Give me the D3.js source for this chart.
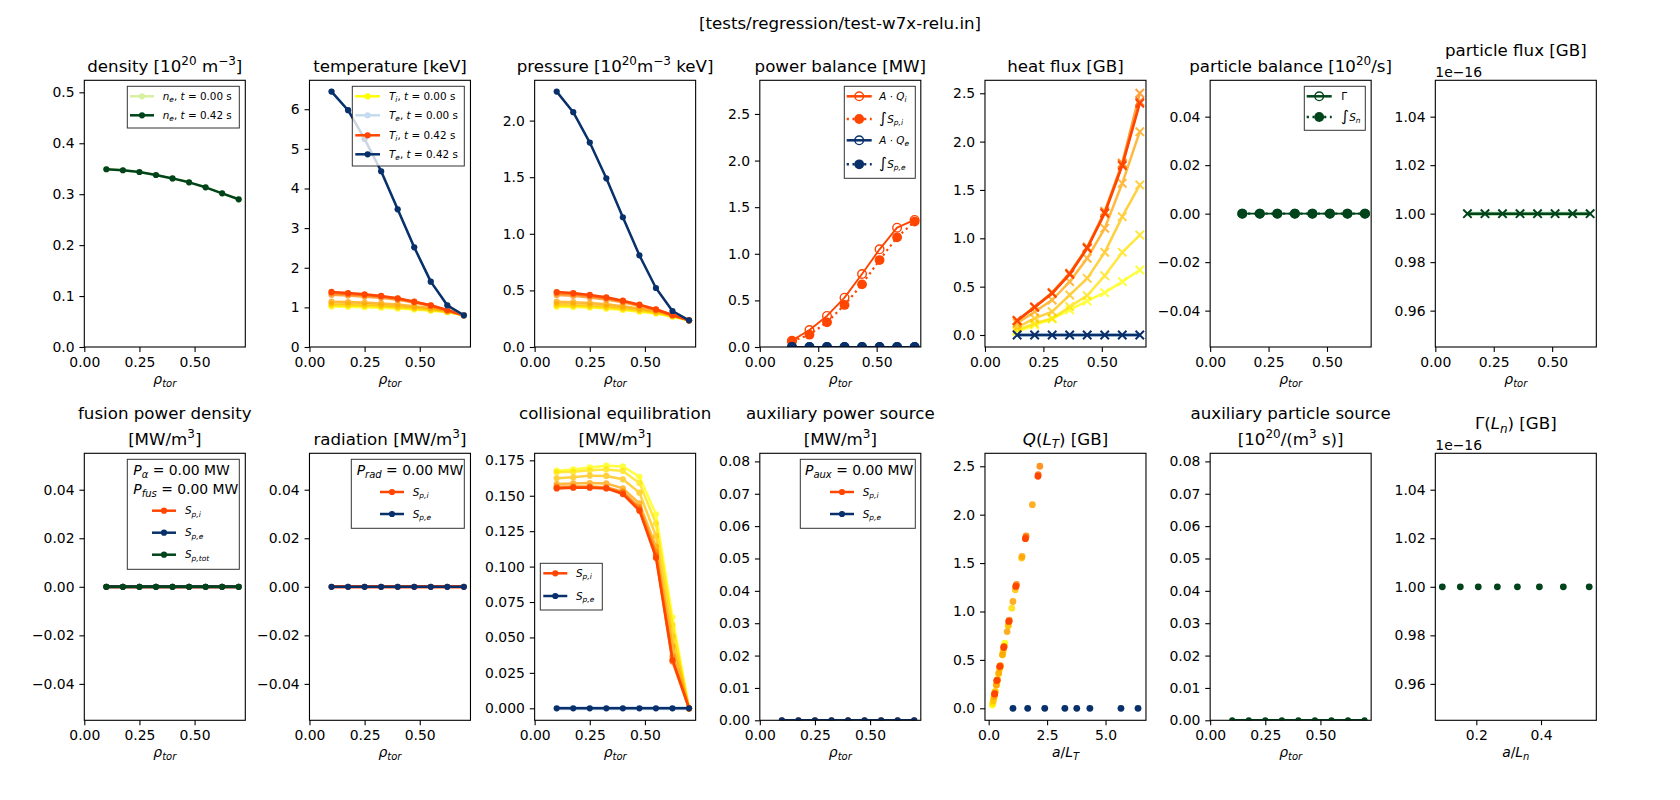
<!DOCTYPE html>
<html><head><meta charset="utf-8">
<script src="https://cdn.jsdelivr.net/npm/d3@7"></script>
<style>body{margin:0;background:#fff} text{font-family:"DejaVu Sans",sans-serif;white-space:pre}</style>
</head><body><svg id="c" width="1680" height="800"></svg>
<script>
// ---------------- DATA ----------------
const rho = [0.1,0.175,0.25,0.325,0.4,0.475,0.55,0.625,0.7];
const rhoMid = [0.1375,0.2125,0.2875,0.3625,0.4375,0.5125,0.5875,0.6625];
const zeros9 = [0,0,0,0,0,0,0,0,0];

const ne_t0 = [0.349,0.347,0.3436,0.3377,0.331,0.3233,0.3135,0.3017,0.29];
const ne_t1 = [0.349,0.347,0.3436,0.3377,0.331,0.3233,0.3135,0.3017,0.29];

const Te_t0 = [6.446,5.975,5.25,4.435,3.475,2.516,1.649,1.052,0.80];
const Te_t1 = [6.446,5.975,5.25,4.435,3.475,2.516,1.649,1.052,0.80];
const Ti_steps = [
  [1.02,1.015,1.005,0.99,0.97,0.945,0.915,0.88,0.80],
  [1.05,1.045,1.035,1.02,0.995,0.965,0.93,0.89,0.80],
  [1.09,1.08,1.07,1.05,1.025,0.99,0.95,0.895,0.80],
  [1.145,1.135,1.12,1.10,1.07,1.03,0.985,0.905,0.80],
  [1.32,1.30,1.27,1.24,1.19,1.12,1.035,0.925,0.80],
  [1.37,1.34,1.31,1.275,1.22,1.14,1.045,0.93,0.80],
  [1.389,1.363,1.33,1.288,1.229,1.144,1.052,0.934,0.80]
];
const pe_t1 = [2.256,2.074,1.806,1.49,1.146,0.81,0.521,0.318,0.236];
const pi_steps = [
  [0.356,0.353,0.348,0.339,0.327,0.312,0.295,0.268,0.236],
  [0.365,0.362,0.356,0.347,0.335,0.319,0.301,0.272,0.236],
  [0.38,0.376,0.369,0.359,0.345,0.328,0.308,0.275,0.236],
  [0.40,0.396,0.388,0.377,0.361,0.341,0.317,0.279,0.236],
  [0.46,0.452,0.438,0.42,0.395,0.364,0.327,0.281,0.236],
  [0.478,0.469,0.453,0.433,0.405,0.37,0.331,0.282,0.236],
  [0.486,0.477,0.46,0.439,0.409,0.374,0.333,0.283,0.236]
];
const AQi = [0.068,0.182,0.333,0.529,0.783,1.048,1.28,1.363];
const intSpi = [0.061,0.132,0.265,0.451,0.672,0.933,1.177,1.345];
const AQe = [0,0,0,0,0,0,0,0];
const intSpe = [0,0,0,0,0,0,0,0];

const Qi_steps = [
  [0.034,0.103,0.166,0.259,0.352,0.438,0.552,0.672],
  [0.052,0.121,0.172,0.293,0.407,0.614,0.855,1.034],
  [0.079,0.172,0.241,0.414,0.586,0.855,1.224,1.552],
  [0.121,0.241,0.362,0.552,0.793,1.103,1.569,2.103],
  [0.15,0.29,0.44,0.64,0.91,1.28,1.78,2.50],
  [0.15,0.29,0.435,0.635,0.90,1.265,1.765,2.414],
  [0.148,0.286,0.431,0.628,0.897,1.259,1.752,2.397]
];
const Qe = [0,0,0,0,0,0,0,0];
const Gamma = [0,0,0,0,0,0,0,0];
const intSn = [0,0,0,0,0,0,0,0];
const GammaGB = [1e-16,1e-16,1e-16,1e-16,1e-16,1e-16,1e-16,1e-16];

const fus_Spi = zeros9, fus_Spe = zeros9, fus_Sptot = zeros9;
const rad_Spi = zeros9, rad_Spe = zeros9;
const coll_Spi_steps = [
  [0.1677,0.1686,0.170,0.1712,0.1707,0.1634,0.1369,0.0642,0],
  [0.1665,0.167,0.168,0.1686,0.1675,0.159,0.1305,0.0588,0],
  [0.1623,0.163,0.1642,0.164,0.1616,0.1522,0.1216,0.0506,0],
  [0.1583,0.1587,0.159,0.1587,0.1552,0.1446,0.1141,0.0435,0],
  [0.1564,0.1566,0.1566,0.156,0.1529,0.1418,0.1105,0.0365,0],
  [0.1557,0.156,0.156,0.1555,0.152,0.1405,0.108,0.033,0],
  [0.1552,0.1557,0.1557,0.1552,0.1512,0.1395,0.1063,0.0341,0]
];
const coll_Spe = zeros9;
const aux_Spi = zeros9, aux_Spe = zeros9;
const auxPart = zeros9;
const aLTi_steps = [
  [0.16,0.22,0.27,0.35,0.42,0.50,0.59,0.69],
  [0.18,0.235,0.28,0.376,0.47,0.64,0.84,0.99],
  [0.20,0.28,0.33,0.48,0.62,0.84,1.14,1.41],
  [0.235,0.33,0.43,0.59,0.79,1.04,1.43,1.87],
  [0.26,0.37,0.50,0.66,0.885,1.19,1.60,2.19],
  [0.26,0.37,0.49,0.66,0.88,1.18,1.59,2.12],
  [0.257,0.343,0.471,0.643,0.857,1.157,1.57,2.11]
];
const aLTe = [1.04,1.67,2.40,3.26,3.77,4.33,5.66,6.39];
const aLn = [0.0948,0.1505,0.206,0.265,0.327,0.395,0.469,0.549];
const GammaLn = [1e-16,1e-16,1e-16,1e-16,1e-16,1e-16,1e-16,1e-16];

// ---------------- STYLE ----------------
const stepColors = ["#ffff00","#ffe000","#ffc100","#ffa200","#ff8300","#ff6400","#ff4500"];
const ORED = "#ff4500", NAVY = "#08306b", LBLUE = "#c6dbef", DGREEN = "#00441b", LGREEN = "#d9f0a3";
const LW = 2.5, DOT = 3.1;

const svg = d3.select('#c');
let clipN = 0;

function parse(str){
  const segs=[]; let it=false, mode=null, big=false, buf='';
  const flush=()=>{ if(buf.length) segs.push({t:buf,i:it,mode,big}); buf=''; };
  for(let k=0;k<str.length;k++){
    const ch=str[k];
    if(ch==='*'){flush(); it=!it;}
    else if(ch==='∫'){flush(); big=true; buf='∫'; flush(); big=false;}
    else if((ch==='_'||ch==='^') && str[k+1]==='{'){flush(); mode = ch==='_'?'sub':'sup'; k++;}
    else if(ch==='}' && mode){flush(); mode=null;}
    else buf+=ch;
  }
  flush(); return segs;
}
function rich(t, str, size){
  let cur=0;
  parse(str).forEach(s=>{
    const target = s.mode==='sub'? 0.22*size : s.mode==='sup' ? -0.4*size : 0;
    const ts = t.append('tspan').text(s.t);
    if(target!==cur) ts.attr('dy', target-cur);
    cur=target;
    if(s.mode) ts.attr('font-size', size*0.72);
    if(s.big) ts.attr('font-size', size*1.45);
    if(s.i) ts.attr('font-style','italic');
  });
  return t;
}
function text(x,y,str,size,anchor){
  const t = svg.append('text').attr('x',x).attr('y',y).attr('font-size',size).attr('text-anchor',anchor||'middle').attr('fill','#000');
  return rich(t,str,size);
}

function axes(o){
  const x0 = 84.3 + 225.17*o.col, w = 161;
  const y0 = o.row ? 453.3 : 80.3, h = o.row ? 267 : 266.7;
  const x = d3.scaleLinear().domain(o.xd).range([x0,x0+w]);
  const y = d3.scaleLinear().domain(o.yd).range([y0+h,y0]);
  const id='clip'+(clipN++);
  svg.append('clipPath').attr('id',id).append('rect').attr('x',x0).attr('y',y0).attr('width',w).attr('height',h);
  const g = svg.append('g');
  const plot = g.append('g').attr('clip-path',`url(#${id})`);
  const xa = g.append('g').attr('transform',`translate(0,${y0+h})`)
    .call(d3.axisBottom(x).tickValues(o.xt).tickFormat(o.xf).tickSize(4.9).tickPadding(4.9));
  const ya = g.append('g').attr('transform',`translate(${x0},0)`)
    .call(d3.axisLeft(y).tickValues(o.yt).tickFormat(o.yf).tickSize(4.9).tickPadding(4.9));
  [xa,ya].forEach(a=>{ a.select('.domain').remove(); a.attr('font-size',13.9).attr('font-family','DejaVu Sans');
    a.selectAll('line').attr('stroke','#000').attr('stroke-width',1.1); a.selectAll('text').attr('fill','#000'); });
  g.append('rect').attr('x',x0).attr('y',y0).attr('width',w).attr('height',h).attr('fill','none').attr('stroke','#000').attr('stroke-width',1.1);
  const cx = x0 + w/2;
  if(o.title2){ text(cx, y0-34.5, o.title, 16.67); text(cx, y0-8.5, o.title2, 16.67); }
  else text(cx, y0 - (o.offset ? 24 : 8.5), o.title, 16.67);
  if(o.offset) text(x0, y0-3.5, o.offset, 13.9, 'start');
  text(cx, y0+h+37, o.xlabel, 13.9);
  return {x,y,plot,x0,y0,w,h};
}

function series(ax, xs, ys, s){
  const pts = xs.map((v,i)=>[ax.x(v), ax.y(ys[i])]);
  const grp = ax.plot.append('g').attr('opacity', s.opacity==null?1:s.opacity);
  if(!s.noLine){
    grp.append('path').attr('d', d3.line()(pts)).attr('fill','none').attr('stroke',s.color)
      .attr('stroke-width', s.width||LW).attr('stroke-dasharray', s.dash||null).attr('stroke-linejoin','round');
  }
  drawMarkers(grp, pts, s);
}
function drawMarkers(grp, pts, s){
  if(!s.marker) return;
  pts.forEach(([px,py])=>{
    if(s.marker==='x'){
      const r = s.r||4.2;
      grp.append('path').attr('d',`M${px-r},${py-r}L${px+r},${py+r}M${px-r},${py+r}L${px+r},${py-r}`)
        .attr('stroke',s.color).attr('stroke-width',2).attr('fill','none');
    } else {
      const c = grp.append('circle').attr('cx',px).attr('cy',py).attr('r',s.r||DOT);
      if(s.marker==='open') c.attr('fill','none').attr('stroke',s.color).attr('stroke-width',1.4);
      else c.attr('fill',s.color);
    }
  });
}

function legend(box, items, o){
  svg.append('rect').attr('x',box[0]).attr('y',box[1]).attr('width',box[2]).attr('height',box[3])
    .attr('fill','#fff').attr('fill-opacity',0.8).attr('stroke','#333').attr('stroke-width',1);
  (o.titles||[]).forEach(t=> text(t.x, t.y+5, t.s, 13.9, 'start'));
  items.forEach(it=>{
    const g = svg.append('g');
    g.append('line').attr('x1',o.sx1).attr('x2',o.sx2).attr('y1',it.y).attr('y2',it.y)
      .attr('stroke',it.color).attr('stroke-width',LW).attr('stroke-dasharray',it.dash||null);
    drawMarkers(g, [[(o.sx1+o.sx2)/2, it.y]], {marker: it.marker||'dot', color: it.color, r: it.r});
    text(o.tx, it.y+3.7, it.label, o.fs||10.4, 'start');
  });
}

const f = s => d3.format(s);
const gridX = {xd:[0,0.73], xt:[0,0.25,0.5], xf:f('.2f')};
const midX = {xd:[0,0.689], xt:[0,0.25,0.5], xf:f('.2f')};
const RHO = '*ρ*_{*tor*}';

// suptitle
text(840, 29, '[tests/regression/test-w7x-relu.in]', 16.67);

// 1 density
let a = axes({col:0,row:0,...gridX, yd:[0,0.5236], yt:[0,0.1,0.2,0.3,0.4,0.5], yf:f('.1f'), title:'density [10^{20} m^{−3}]', xlabel:RHO});
series(a, rho, ne_t0, {color:LGREEN, marker:'dot'});
series(a, rho, ne_t1, {color:DGREEN, marker:'dot'});
legend([127.3,86.3,112,41.7],[
  {y:96.3,color:LGREEN,label:'*n*_{*e*}, *t* = 0.00 s'},
  {y:115.3,color:DGREEN,label:'*n*_{*e*}, *t* = 0.42 s'}],{sx1:130,sx2:154,tx:162.7});

// 2 temperature
a = axes({col:1,row:0,...gridX, yd:[0,6.73], yt:[0,1,2,3,4,5,6], yf:f('d'), title:'temperature [keV]', xlabel:RHO});
Ti_steps.forEach((d,k)=> series(a, rho, d, {color:stepColors[k], marker:'dot', opacity:k===6?1:0.75}));
series(a, rho, Te_t0, {color:LBLUE, marker:'dot'});
series(a, rho, Te_t1, {color:NAVY, marker:'dot'});
legend([352.3,86.3,112,79.7],[
  {y:96.3,color:stepColors[0],label:'*T*_{*i*}, *t* = 0.00 s'},
  {y:115.3,color:LBLUE,label:'*T*_{*e*}, *t* = 0.00 s'},
  {y:135.3,color:ORED,label:'*T*_{*i*}, *t* = 0.42 s'},
  {y:154.3,color:NAVY,label:'*T*_{*e*}, *t* = 0.42 s'}],{sx1:355.3,sx2:380,tx:389});

// 3 pressure
a = axes({col:2,row:0,...gridX, yd:[0,2.356], yt:[0,0.5,1,1.5,2], yf:f('.1f'), title:'pressure [10^{20}m^{−3} keV]', xlabel:RHO});
pi_steps.forEach((d,k)=> series(a, rho, d, {color:stepColors[k], marker:'dot', opacity:k===6?1:0.75}));
series(a, rho, pe_t1, {color:NAVY, marker:'dot'});

// 4 power balance
a = axes({col:3,row:0,...midX, yd:[0,2.861], yt:[0,0.5,1,1.5,2,2.5], yf:f('.1f'), title:'power balance [MW]', xlabel:RHO});
series(a, rhoMid, AQi, {color:ORED, marker:'open', r:4.3, width:1.9});
series(a, rhoMid, intSpi, {color:ORED, marker:'fill', r:4.9, width:2.2, dash:'2.2,3.6'});
series(a, rhoMid, AQe, {color:NAVY, marker:'open', r:4.3, width:1.9});
series(a, rhoMid, intSpe, {color:NAVY, marker:'fill', r:4.9, width:2.2, dash:'2.2,3.6'});
legend([844.3,86.3,71,92],[
  {y:96.3,color:ORED,label:'*A* · *Q*_{*i*}',marker:'open',r:4.3},
  {y:119,color:ORED,label:'∫*S*_{*p,i*}',marker:'fill',r:4.9,dash:'2.2,3.6'},
  {y:140.3,color:NAVY,label:'*A* · *Q*_{*e*}',marker:'open',r:4.3},
  {y:164.3,color:NAVY,label:'∫*S*_{*p,e*}',marker:'fill',r:4.9,dash:'2.2,3.6'}],{sx1:846.7,sx2:871.7,tx:879.3});

// 5 heat flux
a = axes({col:4,row:0,...midX, yd:[-0.124,2.634], yt:[0,0.5,1,1.5,2,2.5], yf:f('.1f'), title:'heat flux [GB]', xlabel:RHO});
Qi_steps.forEach((d,k)=> series(a, rhoMid, d, {color:stepColors[k], marker:'x', opacity:k===6?1:0.75}));
series(a, rhoMid, Qe, {color:LBLUE, width:4});
series(a, rhoMid, Qe, {color:NAVY, marker:'x'});

// 6 particle balance
a = axes({col:5,row:0,...midX, yd:[-0.055,0.055], yt:[-0.04,-0.02,0,0.02,0.04], yf:f('.2f'), title:'particle balance [10^{20}/s]', xlabel:RHO});
series(a, rhoMid, Gamma, {color:DGREEN, marker:'open', r:4.3, width:1.9});
series(a, rhoMid, intSn, {color:DGREEN, marker:'fill', r:4.9, width:2.2, dash:'2.2,3.6'});
legend([1304.3,86.3,61,44],[
  {y:96.3,color:DGREEN,label:'Γ',marker:'open',r:4.3},
  {y:117,color:DGREEN,label:'∫*S*_{*n*}',marker:'fill',r:4.9,dash:'2.2,3.6'}],{sx1:1306.7,sx2:1331.7,tx:1341.3});

// 7 particle flux
a = axes({col:6,row:0,...midX, yd:[0.945e-16,1.055e-16], yt:[0.96e-16,0.98e-16,1e-16,1.02e-16,1.04e-16], yf:v=>(v/1e-16).toFixed(2), title:'particle flux [GB]', xlabel:RHO, offset:'1e−16'});
series(a, rhoMid, GammaGB, {color:'#a1d99b', width:4});
series(a, rhoMid, GammaGB, {color:DGREEN, marker:'x'});

// 8 fusion
a = axes({col:0,row:1,...gridX, yd:[-0.055,0.055], yt:[-0.04,-0.02,0,0.02,0.04], yf:f('.2f'), title:'fusion power density', title2:'[MW/m^{3}]', xlabel:RHO});
series(a, rho, fus_Spi, {color:ORED, marker:'dot', width:3.6});
series(a, rho, fus_Spe, {color:NAVY, marker:'dot', width:3});
series(a, rho, fus_Sptot, {color:DGREEN, marker:'dot'});
legend([127.3,459.3,112,110],[
  {y:510.7,color:ORED,label:'*S*_{*p,i*}'},
  {y:532.7,color:NAVY,label:'*S*_{*p,e*}'},
  {y:554.7,color:DGREEN,label:'*S*_{*p,tot*}'}],{sx1:152,sx2:176,tx:185,
  titles:[{x:133.3,y:470,s:'*P*_{*α*} = 0.00 MW'},{x:133.3,y:489.3,s:'*P*_{*fus*} = 0.00 MW'}]});

// 9 radiation
a = axes({col:1,row:1,...gridX, yd:[-0.055,0.055], yt:[-0.04,-0.02,0,0.02,0.04], yf:f('.2f'), title:'radiation [MW/m^{3}]', xlabel:RHO});
series(a, rho, rad_Spi, {color:ORED, marker:'dot', width:3.6});
series(a, rho, rad_Spe, {color:NAVY, marker:'dot'});
legend([351.3,459.3,113,69],[
  {y:492,color:ORED,label:'*S*_{*p,i*}'},
  {y:514,color:NAVY,label:'*S*_{*p,e*}'}],{sx1:380,sx2:404,tx:412.7,
  titles:[{x:356.7,y:470,s:'*P*_{*rad*} = 0.00 MW'}]});

// 10 collisional
a = axes({col:2,row:1,...gridX, yd:[-0.00847,0.17996], yt:[0,0.025,0.05,0.075,0.1,0.125,0.15,0.175], yf:f('.3f'), title:'collisional equilibration', title2:'[MW/m^{3}]', xlabel:RHO});
coll_Spi_steps.forEach((d,k)=> series(a, rho, d, {color:stepColors[k], marker:'dot', opacity:k===6?1:0.75}));
series(a, rho, coll_Spe, {color:LBLUE, width:4});
series(a, rho, coll_Spe, {color:NAVY, marker:'dot'});
legend([540.3,563.3,62,46.7],[
  {y:573.3,color:ORED,label:'*S*_{*p,i*}'},
  {y:596,color:NAVY,label:'*S*_{*p,e*}'}],{sx1:543.3,sx2:567.3,tx:576});

// 11 aux power
a = axes({col:3,row:1,...gridX, yd:[0,0.0825], yt:[0,0.01,0.02,0.03,0.04,0.05,0.06,0.07,0.08], yf:f('.2f'), title:'auxiliary power source', title2:'[MW/m^{3}]', xlabel:RHO});
series(a, rho, aux_Spi, {color:ORED, marker:'dot'});
series(a, rho, aux_Spe, {color:NAVY, marker:'dot'});
legend([800.3,459.3,115,69],[
  {y:492,color:ORED,label:'*S*_{*p,i*}'},
  {y:514,color:NAVY,label:'*S*_{*p,e*}'}],{sx1:830,sx2:854,tx:862.7,
  titles:[{x:805,y:470,s:'*P*_{*aux*} = 0.00 MW'}]});

// 12 Q(L_T)
a = axes({col:4,row:1, xd:[-0.157,6.73], xt:[0,2.5,5], xf:f('.1f'), yd:[-0.124,2.634], yt:[0,0.5,1,1.5,2,2.5], yf:f('.1f'), title:'*Q*(*L*_{*T*}) [GB]', xlabel:'*a*/*L*_{*T*}'});
aLTi_steps.forEach((d,k)=> series(a, d, Qi_steps[k], {color:stepColors[k], marker:'fill', r:3.4, noLine:true, opacity:k===6?1:0.85}));
series(a, aLTe, Qe, {color:NAVY, marker:'fill', r:3.4, noLine:true});

// 13 aux particle
a = axes({col:5,row:1,...gridX, yd:[0,0.0825], yt:[0,0.01,0.02,0.03,0.04,0.05,0.06,0.07,0.08], yf:f('.2f'), title:'auxiliary particle source', title2:'[10^{20}/(m^{3} s)]', xlabel:RHO});
series(a, rho, auxPart, {color:DGREEN, marker:'dot'});

// 14 Gamma(L_n)
a = axes({col:6,row:1, xd:[0.0732,0.571], xt:[0.2,0.4], xf:f('.1f'), yd:[0.945e-16,1.055e-16], yt:[0.96e-16,0.98e-16,1e-16,1.02e-16,1.04e-16], yf:v=>(v/1e-16).toFixed(2), title:'Γ(*L*_{*n*}) [GB]', xlabel:'*a*/*L*_{*n*}', offset:'1e−16'});
series(a, aLn, GammaLn, {color:DGREEN, marker:'fill', r:3.4, noLine:true});
</script></body></html>
